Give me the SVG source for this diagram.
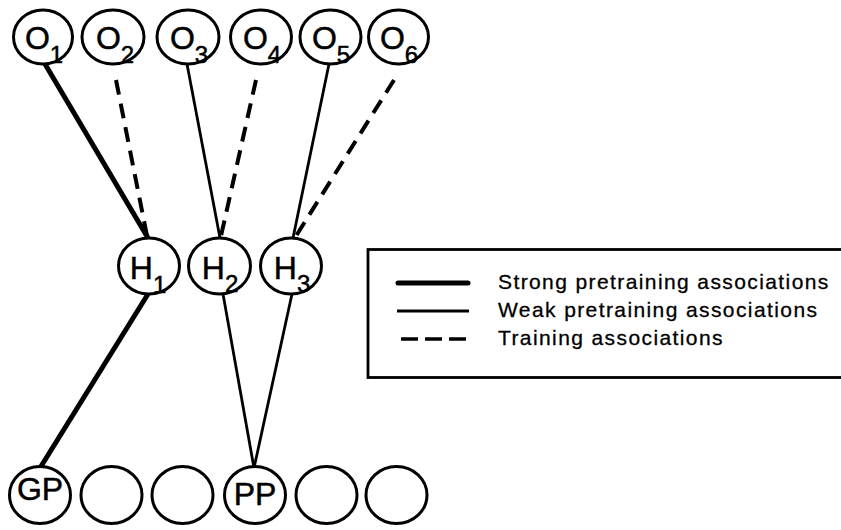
<svg xmlns="http://www.w3.org/2000/svg" width="841" height="530" viewBox="0 0 841 530">
<style>
.node{fill:#fff;stroke:#000;stroke-width:3}
.lbl{font-family:"Liberation Sans",Arial,sans-serif;font-size:32px;fill:#000;stroke:#000;stroke-width:0.5;text-anchor:middle}
.sub{font-size:24px}
.strong{stroke:#000;stroke-width:5;fill:none}
.weak{stroke:#000;stroke-width:2.8;fill:none}
.train{stroke:#000;stroke-width:4;fill:none;stroke-dasharray:15 9}
.leg{font-family:"Liberation Sans",Arial,sans-serif;font-size:21px;letter-spacing:1.4px;fill:#000;stroke:#000;stroke-width:0.3}
</style>
<rect width="841" height="530" fill="#fff"/>
<g id="connectors">
<line class="strong" x1="45" y1="64" x2="148" y2="238"/>
<line class="train" x1="116" y1="80" x2="147" y2="236"/>
<line class="weak" x1="187" y1="64" x2="220" y2="238"/>
<line class="train" x1="256" y1="80" x2="221" y2="236"/>
<line class="weak" x1="329" y1="64" x2="293" y2="238"/>
<line class="train" x1="394" y1="80" x2="296" y2="236"/>
<line class="strong" x1="148" y1="294" x2="40" y2="468"/>
<line class="weak" x1="223" y1="294" x2="254" y2="468"/>
<line class="weak" x1="292" y1="294" x2="254" y2="468"/>
</g>
<g id="O1"><ellipse class="node" cx="43" cy="37" rx="29.5" ry="27"/><text class="lbl" x="44" y="49">O<tspan class="sub" dy="14">1</tspan></text></g>
<g id="O2"><ellipse class="node" cx="113" cy="37" rx="31" ry="27"/><text class="lbl" x="115" y="49">O<tspan class="sub" dy="14">2</tspan></text></g>
<g id="O3"><ellipse class="node" cx="188" cy="37" rx="31" ry="27"/><text class="lbl" x="189" y="49">O<tspan class="sub" dy="14">3</tspan></text></g>
<g id="O4"><ellipse class="node" cx="261" cy="37" rx="30.5" ry="27"/><text class="lbl" x="262" y="49">O<tspan class="sub" dy="14">4</tspan></text></g>
<g id="O5"><ellipse class="node" cx="330.5" cy="37" rx="30.5" ry="27"/><text class="lbl" x="331" y="49">O<tspan class="sub" dy="14">5</tspan></text></g>
<g id="O6"><ellipse class="node" cx="398.5" cy="37" rx="30" ry="27"/><text class="lbl" x="399" y="49">O<tspan class="sub" dy="14">6</tspan></text></g>
<g id="H1"><ellipse class="node" cx="149" cy="266" rx="30.5" ry="28"/><text class="lbl" x="148" y="279">H<tspan class="sub" dy="14">1</tspan></text></g>
<g id="H2"><ellipse class="node" cx="219.5" cy="266" rx="31" ry="28"/><text class="lbl" x="220" y="279">H<tspan class="sub" dy="13">2</tspan></text></g>
<g id="H3"><ellipse class="node" cx="291" cy="266" rx="30.5" ry="28"/><text class="lbl" x="292" y="279">H<tspan class="sub" dy="13">3</tspan></text></g>
<g id="GP"><ellipse class="node" cx="40" cy="495" rx="30.5" ry="28.5"/><text class="lbl" x="40" y="500">GP</text></g>
<g id="B2"><ellipse class="node" cx="111.5" cy="495" rx="30.5" ry="28.5"/></g>
<g id="B3"><ellipse class="node" cx="182.5" cy="495" rx="30.5" ry="28.5"/></g>
<g id="PP"><ellipse class="node" cx="255" cy="495" rx="30.5" ry="28.5"/><text class="lbl" x="255" y="505">PP</text></g>
<g id="B5"><ellipse class="node" cx="326.5" cy="495" rx="30.5" ry="28.5"/></g>
<g id="B6"><ellipse class="node" cx="396.5" cy="495" rx="30.5" ry="28.5"/></g>
<g id="legend">
<rect x="368" y="249.5" width="490" height="128" fill="#fff" stroke="#000" stroke-width="2.8"/>
<line x1="398" y1="283" x2="468" y2="283" stroke="#000" stroke-width="5" stroke-linecap="round"/>
<line x1="397" y1="311" x2="469" y2="311" stroke="#000" stroke-width="2.8"/>
<line x1="401" y1="339" x2="466" y2="339" stroke="#000" stroke-width="3.5" stroke-dasharray="17 7"/>
<text class="leg" x="498" y="289">Strong pretraining associations</text>
<text class="leg" x="498" y="317">Weak pretraining associations</text>
<text class="leg" x="498" y="345">Training associations</text>
</g>
</svg>
